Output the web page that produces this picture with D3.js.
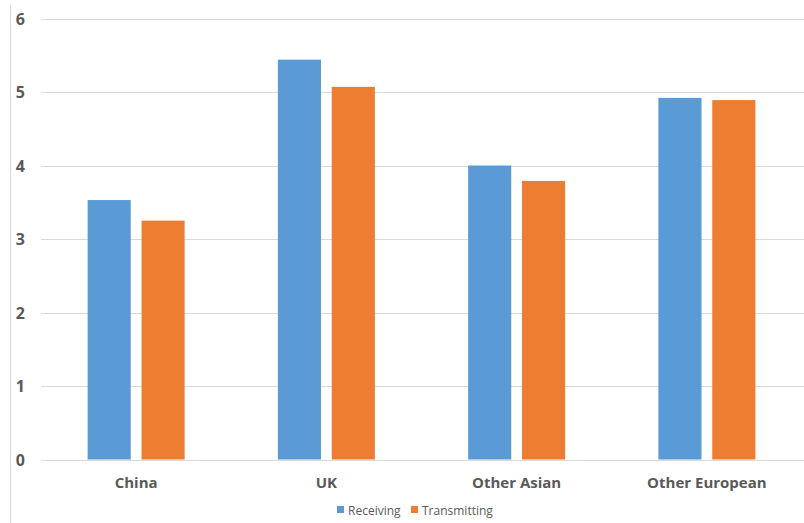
<!DOCTYPE html>
<html><head><meta charset="utf-8">
<script src="https://cdn.jsdelivr.net/npm/d3@7"></script>
<style>body{margin:0;background:#fff}svg{display:block}</style>
</head><body>
<svg id="c" width="804" height="523"></svg>
<script>
const categories = ["China", "UK", "Other Asian", "Other European"];
const seriesNames = ["Receiving", "Transmitting"];
const receiving = [3.53, 5.44, 4.00, 4.92];
const transmitting = [3.25, 5.07, 3.79, 4.89];
const yTicks = [0, 1, 2, 3, 4, 5, 6];
const colors = ["#5B9BD5", "#ED7D31"];

const svg = d3.select("#c");
const font = "'Open Sans', 'Liberation Sans', sans-serif";
const x = d3.scaleBand().domain(categories).range([41, 802]);
const sub = d3.scaleBand().domain(seriesNames).range([x.bandwidth()/2 - 48.5, x.bandwidth()/2 + 48.5]).paddingInner(0.2);
const y = d3.scaleLinear().domain([0, 6]).range([459.5, 18.5]);

// left border line
svg.append("line").attr("x1", 10.5).attr("x2", 10.5).attr("y1", 5).attr("y2", 523)
  .attr("stroke", "#d9d9d9").attr("stroke-width", 1);

// gridlines
svg.append("g").selectAll("line").data(yTicks).join("line")
  .attr("x1", 41).attr("x2", 804)
  .attr("y1", d => Math.round(y(d)) + 0.5).attr("y2", d => Math.round(y(d)) + 0.5)
  .attr("stroke", "#d9d9d9").attr("stroke-width", 1);

// y tick labels
svg.append("g").selectAll("text").data(yTicks).join("text")
  .attr("x", 25).attr("y", d => y(d) + 6)
  .attr("text-anchor", "end").attr("font-family", font).attr("font-weight", "bold")
  .attr("font-size", 16).attr("fill", "#595959").text(d => d);

const data = categories.map((c, i) => ({c, vals: [receiving[i], transmitting[i]]}));
const g = svg.append("g").selectAll("g").data(data).join("g")
  .attr("transform", d => `translate(${x(d.c)},0)`);
g.selectAll("rect").data(d => d.vals.map((v, j) => ({v, s: seriesNames[j], j})))
  .join("rect")
  .attr("x", d => sub(d.s)).attr("width", sub.bandwidth())
  .attr("y", d => y(d.v)).attr("height", d => y(0) - y(d.v))
  .attr("fill", d => colors[d.j]);

// category labels
svg.append("g").selectAll("text").data(categories).join("text")
  .attr("x", d => x(d) + x.bandwidth()/2).attr("y", 488)
  .attr("text-anchor", "middle").attr("font-family", font).attr("font-weight", "bold")
  .attr("font-size", 15).attr("fill", "#595959").text(d => d);

// legend
const leg = [{n: seriesNames[0], x: 337, c: colors[0]}, {n: seriesNames[1], x: 411, c: colors[1]}];
const lg = svg.append("g").selectAll("g").data(leg).join("g");
lg.append("rect").attr("x", d => d.x).attr("y", 506).attr("width", 7).attr("height", 7).attr("fill", d => d.c);
lg.append("text").attr("x", d => d.x + 11).attr("y", 514.5)
  .attr("font-family", font).attr("font-size", 12).attr("fill", "#595959").text(d => d.n);
</script>
</body></html>
